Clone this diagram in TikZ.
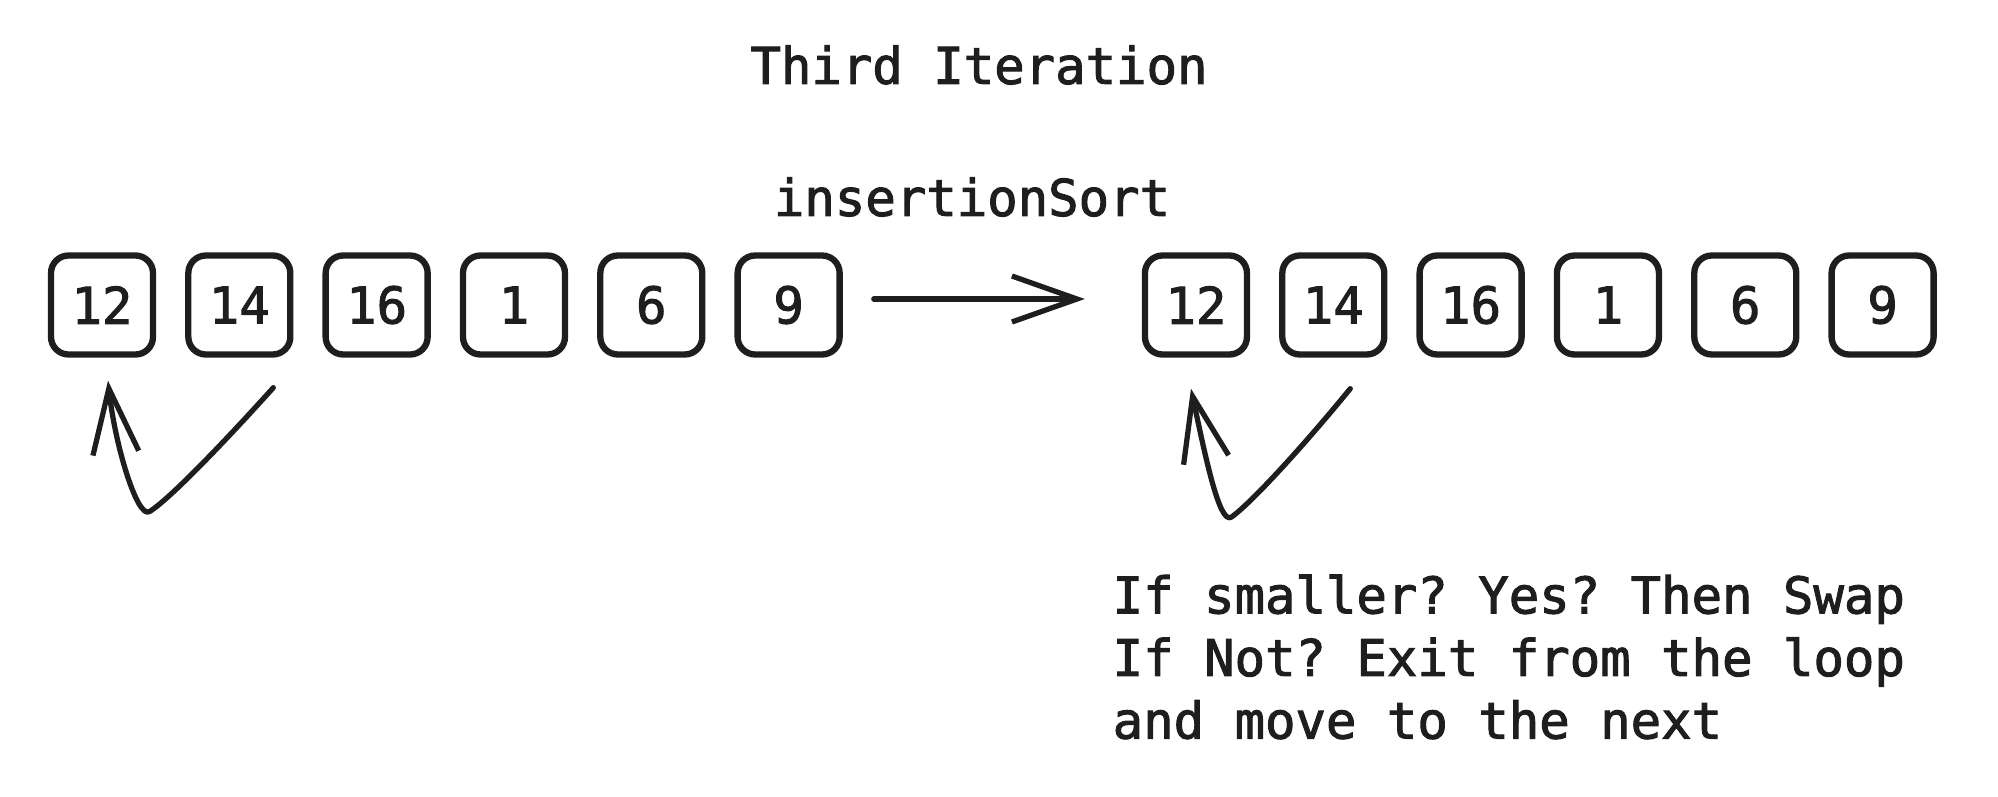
\documentclass[tikz,border=0pt]{standalone}
\usepackage{fontspec}
\setmonofont[FakeBold=2]{DejaVu Sans Mono}
\usepackage{xcolor}
\usepackage{tikz}
\usetikzlibrary{arrows.meta,positioning}
\definecolor{ink}{HTML}{1E1E1E}
\newcommand{\codefont}{\fontsize{14.4pt}{17.8pt}\selectfont\ttfamily}
\tikzset{
  cell/.style={rectangle, rounded corners=5pt, draw=ink, line width=1.8pt,
               minimum width=1.02cm, minimum height=0.99cm, inner sep=0pt,
               text=ink, font=\codefont},
  txt/.style={text=ink, font=\codefont, inner sep=0pt},
  arr/.style={-{Straight Barb[length=6.5mm, width=4.6mm]}, line width=1.5pt,
              line cap=round, line join=round, draw=#1},
  arr/.default=ink,
}

\begin{document}
\begin{tikzpicture}[node distance=0.29cm]
        \useasboundingbox (0,0) rectangle (19.98,-7.97);
        \node[txt] (title) at (9.79,-0.65) {Third Iteration};
        \node[txt] (algo) at (9.72,-1.97) {insertionSort};

        % before
        \node[cell] (b1) at (1.02,-3.05) {12};
        \node[cell, right=of b1] (b2) {14};
        \node[cell, right=of b2] (b3) {16};
        \node[cell, right=of b3] (b4) {1};
        \node[cell, right=of b4] (b5) {6};
        \node[cell, right=of b5] (b6) {9};

        % after
        \node[cell, right=2.99cm of b6] (c1) {12};
        \node[cell, right=of c1] (c2) {14};
        \node[cell, right=of c2] (c3) {16};
        \node[cell, right=of c3] (c4) {1};
        \node[cell, right=of c4] (c5) {6};
        \node[cell, right=of c5] (c6) {9};

        \draw[arr, shorten <=0.31cm, shorten >=0.57cm]
              ([yshift=0.06cm]b6.east) -- ([yshift=0.06cm]c1.west);

        \draw[arr] ([xshift=0.34cm,yshift=-0.30cm]b2.south)
              .. controls +(-0.45,-0.5) and +(0.2,0.12) .. ++(-1.24,-1.24)
              .. controls +(-0.12,-0.07) and +(0.07,-0.65) ..
              ([xshift=0.06cm,yshift=-0.23cm]b1.south);
        \draw[arr] ([xshift=0.17cm,yshift=-0.31cm]c2.south)
              .. controls +(-0.45,-0.55) and +(0.2,0.14) .. ++(-1.19,-1.285)
              .. controls +(-0.12,-0.08) and +(0.14,-0.66) ..
              ([xshift=-0.05cm,yshift=-0.31cm]c1.south);

        \node[txt, align=left, anchor=north west] (note) at (11.12,-5.74)
              {If smaller? Yes? Then Swap\\If Not? Exit from the loop\\and move to the next};
      \end{tikzpicture}
\end{document}
